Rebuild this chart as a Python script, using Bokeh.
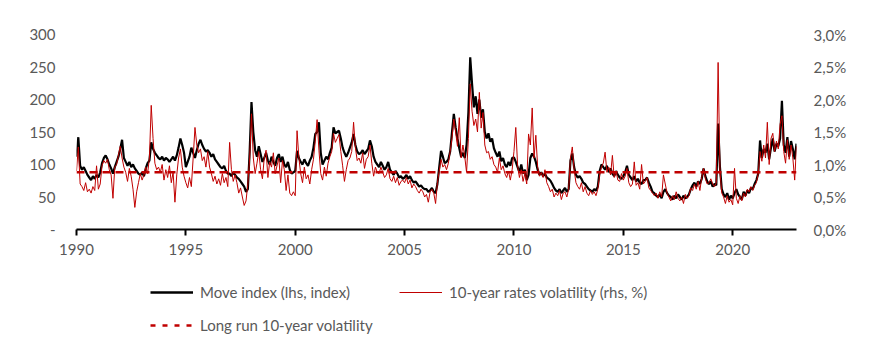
import numpy as np
from bokeh.plotting import figure
from bokeh.layouts import column
from bokeh.models import (Range1d, LinearAxis, FixedTicker, Legend, LegendItem)
from bokeh.embed import file_html
from bokeh.resources import INLINE

START_YEAR = 1990
# MOVE index (lhs), monthly readings 1990-2022
move_index = [
    112, 142, 98, 92, 96, 90, 84, 80, 76, 82, 78, 84,        # 1990
    80, 88, 102, 110, 114, 108, 100, 94, 86, 96, 104, 112,   # 1991
    124, 138, 110, 104, 98, 104, 96, 100, 94, 90, 86, 84,    # 1992
    88, 82, 94, 102, 106, 134, 124, 118, 114, 110, 108, 112, # 1993
    106, 110, 108, 104, 108, 112, 106, 114, 126, 140, 130, 118,  # 1994
    96, 104, 112, 126, 118, 110, 122, 132, 138, 130, 124, 120,   # 1995
    122, 118, 112, 116, 108, 104, 100, 96, 94, 98, 90, 86,   # 1996
    86, 82, 88, 84, 80, 78, 74, 70, 66, 58, 62, 120,         # 1997
    196, 150, 122, 112, 128, 116, 104, 110, 118, 106, 100, 112,  # 1998
    104, 98, 110, 116, 104, 112, 100, 96, 104, 92, 86, 88,   # 1999
    90, 121, 110, 104, 100, 108, 102, 98, 106, 112, 126, 147,    # 2000
    150, 165, 118, 100, 106, 112, 108, 118, 126, 157, 148, 150,  # 2001
    152, 140, 126, 118, 112, 118, 126, 134, 147, 130, 120, 116,  # 2002
    118, 122, 116, 120, 124, 137, 128, 112, 104, 100, 96, 104,   # 2003
    98, 92, 96, 104, 92, 88, 84, 90, 86, 80, 82, 78,         # 2004
    80, 84, 78, 82, 76, 72, 74, 70, 66, 68, 64, 62,          # 2005
    62, 58, 60, 64, 58, 56, 70, 96, 121, 112, 102, 104,      # 2006
    108, 120, 150, 178, 157, 140, 125, 112, 118, 110, 130, 180,  # 2007
    265, 224, 188, 205, 178, 200, 172, 185, 150, 140, 148, 135,  # 2008
    140, 125, 118, 112, 120, 105, 110, 100, 96, 104, 98, 110,    # 2009
    111, 104, 96, 88, 100, 86, 92, 76, 84, 110, 117, 112,    # 2010
    104, 92, 84, 88, 82, 86, 80, 78, 75, 70, 64, 60,         # 2011
    58, 62, 56, 60, 64, 58, 62, 106, 117, 96, 84, 80,        # 2012
    82, 78, 72, 70, 66, 62, 60, 58, 62, 60, 66, 90,          # 2013
    100, 96, 92, 98, 88, 94, 86, 82, 90, 84, 80, 78,         # 2014
    82, 88, 98, 84, 80, 76, 82, 74, 78, 72, 70, 76,          # 2015
    76, 80, 72, 66, 58, 56, 52, 50, 54, 48, 58, 62,          # 2016
    56, 52, 50, 46, 52, 48, 54, 50, 46, 52, 48, 50,          # 2017
    54, 62, 68, 72, 66, 74, 70, 78, 94, 82, 74, 70,          # 2018
    74, 66, 70, 68, 163, 96, 62, 54, 50, 56, 46, 52,         # 2019
    48, 56, 62, 54, 50, 46, 58, 52, 60, 56, 64, 62,          # 2020
    70, 76, 86, 137, 110, 124, 118, 132, 108, 126, 140, 120, # 2021
    132, 128, 140, 198, 130, 118, 142, 112, 136, 124, 108, 132,  # 2022
]
# 10-year rates volatility (rhs, %), monthly readings 1990-2022
rates_vol = [
    0.90, 1.27, 0.70, 0.66, 0.60, 0.72, 0.58, 0.62, 0.56, 0.66, 0.60, 0.98,  # 1990
    0.62, 0.70, 0.98, 1.06, 1.02, 1.08, 0.92, 0.84, 0.48, 0.96, 1.00, 1.14,  # 1991
    1.28, 1.10, 0.96, 0.88, 0.74, 0.94, 0.82, 0.62, 0.34, 0.58, 0.72, 0.86,  # 1992
    0.76, 0.84, 0.96, 0.86, 1.10, 1.91, 1.40, 1.02, 0.92, 0.96, 0.88, 1.00,  # 1993
    0.76, 0.92, 0.80, 0.98, 0.72, 0.88, 0.42, 0.84, 1.10, 1.24, 0.96, 0.82,  # 1994
    0.72, 0.64, 0.80, 0.66, 1.10, 1.57, 1.30, 1.18, 1.24, 1.06, 1.12, 0.96,  # 1995
    1.20, 0.96, 0.86, 0.74, 0.82, 0.70, 0.78, 0.68, 0.86, 0.72, 0.80, 0.66,  # 1996
    1.34, 0.92, 0.74, 0.84, 0.72, 0.56, 0.64, 0.50, 0.37, 0.44, 0.70, 1.10,  # 1997
    1.78, 1.10, 0.86, 1.02, 1.20, 0.92, 0.78, 1.10, 1.22, 0.80, 1.04, 0.96,  # 1998
    1.18, 0.86, 0.98, 1.10, 0.72, 1.06, 0.92, 0.60, 0.84, 0.56, 0.52, 0.58,  # 1999
    0.52, 1.52, 1.10, 0.86, 0.72, 0.96, 0.78, 0.84, 0.70, 0.92, 1.08, 1.36,  # 2000
    1.69, 1.22, 0.86, 0.76, 0.96, 0.82, 1.02, 1.12, 1.20, 1.48, 1.34, 1.40,  # 2001
    1.46, 1.20, 0.98, 0.74, 0.92, 1.06, 1.10, 1.20, 1.65, 1.26, 1.06, 1.10,  # 2002
    1.02, 1.18, 0.94, 1.08, 1.12, 1.30, 1.02, 0.82, 0.96, 0.88, 0.86, 0.96,  # 2003
    0.88, 0.80, 0.84, 0.94, 0.78, 0.74, 0.82, 0.72, 0.80, 0.68, 0.74, 0.76,  # 2004
    0.72, 0.80, 0.70, 0.76, 0.64, 0.70, 0.66, 0.60, 0.56, 0.62, 0.58, 0.50,  # 2005
    0.54, 0.42, 0.58, 0.62, 0.56, 0.40, 0.72, 0.90, 1.08, 0.96, 1.00, 0.92,  # 2006
    1.02, 1.20, 1.40, 1.70, 1.50, 1.28, 1.72, 1.10, 1.30, 1.12, 0.88, 1.40,  # 2007
    2.24, 1.82, 1.60, 1.70, 1.50, 2.11, 1.56, 1.80, 1.30, 1.18, 1.20, 1.08,  # 2008
    1.12, 1.00, 0.96, 0.88, 1.10, 0.92, 0.98, 0.86, 0.80, 0.90, 0.76, 0.92,  # 2009
    1.20, 1.57, 0.98, 0.80, 0.92, 0.74, 0.86, 0.70, 1.47, 1.30, 1.87, 1.10,  # 2010
    1.45, 0.96, 0.82, 0.88, 0.80, 0.92, 0.72, 0.66, 0.58, 0.62, 0.50, 0.56,  # 2011
    0.52, 0.60, 0.46, 0.56, 0.58, 0.50, 0.62, 1.10, 1.27, 0.92, 0.72, 0.66,  # 2012
    0.62, 0.72, 0.58, 0.66, 0.56, 0.52, 0.60, 0.54, 0.58, 0.52, 0.62, 0.84,  # 2013
    0.96, 1.02, 1.19, 0.88, 0.96, 0.84, 1.14, 0.80, 0.90, 0.76, 0.74, 0.86,  # 2014
    0.76, 0.82, 0.94, 0.72, 0.66, 0.70, 1.04, 0.68, 0.72, 0.62, 1.00, 0.70,  # 2015
    0.74, 0.80, 0.64, 0.60, 0.56, 0.52, 0.56, 0.48, 0.58, 0.50, 0.84, 0.70,  # 2016
    0.56, 0.50, 0.44, 0.52, 0.46, 0.58, 0.48, 0.44, 0.50, 0.40, 0.54, 0.48,  # 2017
    0.52, 0.64, 0.60, 0.70, 0.62, 0.74, 0.60, 0.80, 0.94, 0.78, 0.70, 0.72,  # 2018
    0.78, 0.70, 0.66, 0.72, 2.57, 0.90, 0.56, 0.50, 0.40, 0.52, 0.42, 0.46,  # 2019
    0.38, 0.94, 0.48, 0.40, 0.52, 0.44, 0.56, 0.50, 0.62, 0.58, 0.66, 0.60,  # 2020
    0.68, 0.72, 0.86, 1.20, 1.05, 1.30, 1.10, 1.65, 1.00, 1.40, 1.48, 1.20,  # 2021
    1.36, 1.24, 1.62, 1.75, 1.20, 1.02, 1.38, 1.08, 1.30, 1.10, 0.76, 1.28,  # 2022
]
long_run_vol = 0.88
x_ticks = [1990, 1995, 2000, 2005, 2010, 2015, 2020]
left_ticks = [0, 50, 100, 150, 200, 250, 300]
left_labels = ["-", "50", "100", "150", "200", "250", "300"]
right_ticks = [0.0, 0.5, 1.0, 1.5, 2.0, 2.5, 3.0]
right_labels = ["0,0%", "0,5%", "1,0%", "1,5%", "2,0%", "2,5%", "3,0%"]
legend_labels = ["Move index (lhs, index)", "10-year rates volatility (rhs, %)",
                 "Long run 10-year volatility"]

dates = [START_YEAR + i / 12 for i in range(len(move_index))]
long_run = [long_run_vol] * len(dates)

FONT = "Lato"
GREY = "#595959"
RED = "#C00000"
W = 882
H_MAIN = 261
H_LEG = 350 - H_MAIN
FRAME_LEFT = 76

p = figure(width=W, height=H_MAIN, output_backend="svg", toolbar_location=None,
           x_range=Range1d(dates[0], dates[-1]), y_range=Range1d(0, 300),
           min_border_left=FRAME_LEFT, min_border_right=86, min_border_top=34,
           min_border_bottom=H_MAIN - 229)
p.outline_line_color = None
p.xgrid.visible = False
p.ygrid.visible = False
p.extra_y_ranges = {"pct": Range1d(0, 3)}

# bottom axis
xa = p.xaxis[0]
xa.ticker = FixedTicker(ticks=x_ticks)
xa.axis_line_color = "black"
xa.axis_line_width = 2
xa.major_tick_line_color = "black"
xa.major_tick_line_width = 2
xa.major_tick_in = 0
xa.major_tick_out = 6
xa.minor_tick_line_color = None
xa.major_label_standoff = 8
xa.major_label_text_font = FONT
xa.major_label_text_font_size = "15px"
xa.major_label_text_color = GREY

# left axis
ya = p.yaxis[0]
ya.ticker = FixedTicker(ticks=left_ticks)
ya.major_label_overrides = {t: l for t, l in zip(left_ticks, left_labels)}
ya.axis_line_color = None
ya.major_tick_line_color = None
ya.minor_tick_line_color = None
ya.major_tick_in = 0
ya.major_tick_out = 0
ya.major_label_standoff = 21
ya.major_label_text_font = FONT
ya.major_label_text_font_size = "15px"
ya.major_label_text_color = GREY

# right axis
ra = LinearAxis(y_range_name="pct", ticker=FixedTicker(ticks=right_ticks))
ra.major_label_overrides = {t: l for t, l in zip(right_ticks, right_labels)}
ra.axis_line_color = None
ra.major_tick_line_color = None
ra.minor_tick_line_color = None
ra.major_tick_in = 0
ra.major_tick_out = 0
ra.major_label_standoff = 17
ra.major_label_text_font = FONT
ra.major_label_text_font_size = "15px"
ra.major_label_text_color = GREY
p.add_layout(ra, "right")

p.line(dates, move_index, line_color="black", line_width=2.2)
p.line(dates, rates_vol, y_range_name="pct", line_color=RED, line_width=1)
p.line(dates, long_run, y_range_name="pct", line_color=RED, line_width=2.5,
       line_dash="8 5")

# legend strip below the chart (frame aligned with the chart's frame)
q = figure(width=W, height=H_LEG, output_backend="svg", toolbar_location=None,
           x_range=Range1d(0, 1), y_range=Range1d(0, 1),
           min_border_left=FRAME_LEFT, min_border_right=86, min_border_top=0,
           min_border_bottom=0)
q.outline_line_color = None
q.axis.visible = False
q.xgrid.visible = False
q.ygrid.visible = False
nan = [float("nan")]
k_move = q.line(nan, nan, line_color="black", line_width=2.5)
k_vol = q.line(nan, nan, line_color=RED, line_width=1)
k_long = q.line(nan, nan, line_color=RED, line_width=2.5, line_dash="5 7")


def make_legend(label, renderer, loc):
    lg = Legend(items=[LegendItem(label=label, renderers=[renderer])], location=loc,
                orientation="horizontal", padding=0, margin=0, spacing=0,
                glyph_width=43, glyph_height=20, label_height=20, label_standoff=7,
                label_text_font=FONT, label_text_font_size="15px",
                label_text_color=GREY, border_line_color=None,
                background_fill_alpha=0)
    q.add_layout(lg)


row1_bottom = H_LEG - (292 - H_MAIN) - 10
row2_bottom = H_LEG - (325 - H_MAIN) - 10
make_legend(legend_labels[0], k_move, (150 - FRAME_LEFT, row1_bottom))
make_legend(legend_labels[1], k_vol, (399 - FRAME_LEFT, row1_bottom))
make_legend(legend_labels[2], k_long, (150 - FRAME_LEFT, row2_bottom))

layout = column(p, q, spacing=0)
open("out.html", "w").write(file_html(layout, INLINE))
